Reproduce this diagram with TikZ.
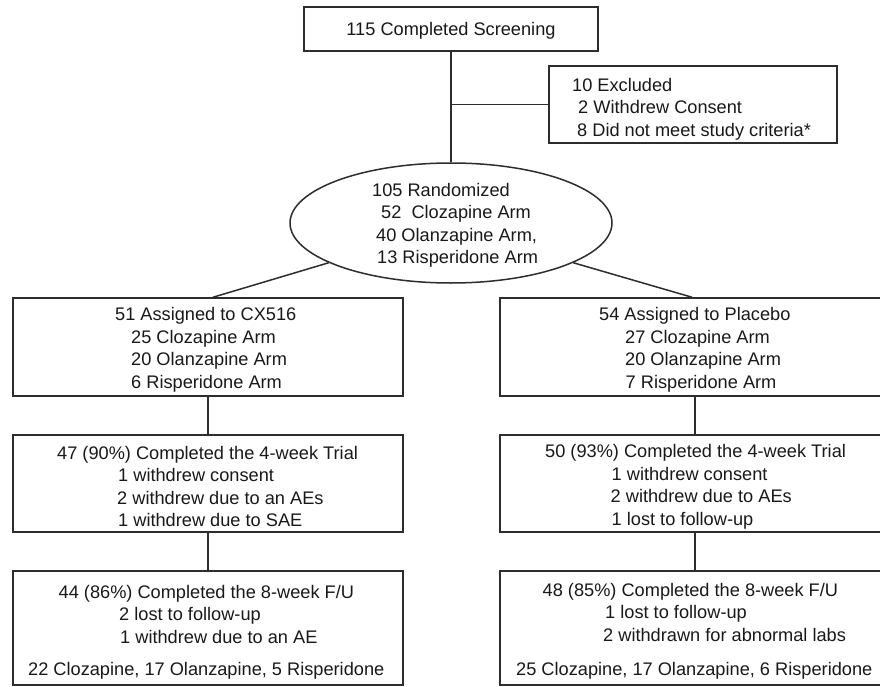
\documentclass[tikz,border=0pt]{standalone}
\usepackage{fontspec}
\setmainfont{Liberation Sans}
\usetikzlibrary{shapes.geometric}
\newcommand{\dfont}{\fontsize{18.2pt}{22.5pt}\selectfont}
\newcommand{\fst}{\rule{0pt}{16pt}}
\definecolor{ink}{RGB}{45,45,45}
\definecolor{txtc}{RGB}{25,25,25}
\begin{document}
\begin{tikzpicture}[x=1pt,y=-1pt,
  box/.style={draw=ink, line width=1.5pt, rectangle, inner sep=0pt},
  conn/.style={draw=ink, line width=1.5pt},
  txt/.style={anchor=north west, inner sep=0pt, align=left, font=\dfont, text=txtc}]
\useasboundingbox (0,0) rectangle (880,687);
\clip (0,0) rectangle (880,687);
\fill[white] (0,0) rectangle (880,687);

% boxes
\node[box, minimum width=294pt, minimum height=44pt, font=\dfont, text=txtc,
      text height=13pt, text depth=0pt] (screen) at (451,29) {115 Completed Screening};
\node[box, minimum width=288pt, minimum height=77pt] (excl) at (693,104.5) {};
\node[draw=ink, line width=1.5pt, ellipse, minimum width=322pt, minimum height=120pt,
      inner sep=0pt] (rand) at (451,223) {};
\node[box, minimum width=390pt, minimum height=98pt] (cxa) at (208,347) {};
\node[box, minimum width=390pt, minimum height=97pt] (cxb) at (208,483.5) {};
\node[box, minimum width=390pt, minimum height=114pt] (cxc) at (208,628) {};
\node[box, minimum width=390pt, minimum height=98pt] (pla) at (695,347) {};
\node[box, minimum width=390pt, minimum height=97pt] (plb) at (695,483.5) {};
\node[box, minimum width=390pt, minimum height=114pt] (plc) at (695,628) {};

% connectors
\draw[conn] (screen.south) -- (rand.north);
\coordinate (j) at (screen.south |- excl.west);
\draw[conn] (j) -- (excl.west);
\draw[conn] (rand.198) -- ([xshift=5pt]cxa.north);
\draw[conn] (rand.-18) -- ([xshift=-3pt]pla.north);
\draw[conn] (cxa.south) -- (cxb.north);
\draw[conn] (cxb.south) -- (cxc.north);
\draw[conn] (pla.south) -- (plb.north);
\draw[conn] (plb.south) -- (plc.north);

% texts
\node[txt] (t-excl) at (572,75) {\fst 10 Excluded\\\hspace*{6pt}2 Withdrew Consent\\\hspace*{5pt}8 Did not meet study criteria*};
\node[txt] (t-rand) at (372,180) {\fst 105 Randomized\\\hspace*{9pt}52\ \ Clozapine Arm\\\hspace*{4pt}40 Olanzapine Arm,\\\hspace*{5pt}13 Risperidone Arm};
\node[txt] (t-cxa) at (115,304.5) {\fst 51 Assigned to CX516\\\hspace*{16pt}25 Clozapine Arm\\\hspace*{16pt}20 Olanzapine Arm\\\hspace*{16pt}6 Risperidone Arm};
\node[txt] (t-cxb) at (57,443) {\fst 47 (90\%) Completed the 4-week Trial\\\hspace*{61pt}1 withdrew consent\\\hspace*{60pt}2 withdrew due to an AEs\\\hspace*{61pt}1 withdrew due to SAE};
\node[txt] (t-cxc) at (28,582) {\hspace*{30.5pt}\fst 44 (86\%) Completed the 8-week F/U\\\hspace*{91pt}2 lost to follow-up\\\hspace*{92pt}1 withdrew due to an AE\\[9.5pt]22 Clozapine, 17 Olanzapine, 5 Risperidone};
\node[txt] (t-pla) at (599,304.5) {\fst 54 Assigned to Placebo\\\hspace*{26pt}27 Clozapine Arm\\\hspace*{26pt}20 Olanzapine Arm\\\hspace*{26.5pt}7 Risperidone Arm};
\node[txt] (t-plb) at (545,441.5) {\fst 50 (93\%) Completed the 4-week Trial\\\hspace*{66.5pt}1 withdrew consent\\\hspace*{65.5pt}2 withdrew due to AEs\\\hspace*{66.5pt}1 lost to follow-up};
\node[txt] (t-plc) at (516,580) {\hspace*{26.5pt}\fst 48 (85\%) Completed the 8-week F/U\\\hspace*{89pt}1 lost to follow-up\\\hspace*{87pt}2 withdrawn for abnormal labs\\[11.5pt]25 Clozapine, 17 Olanzapine, 6 Risperidone};
\end{tikzpicture}
\end{document}
